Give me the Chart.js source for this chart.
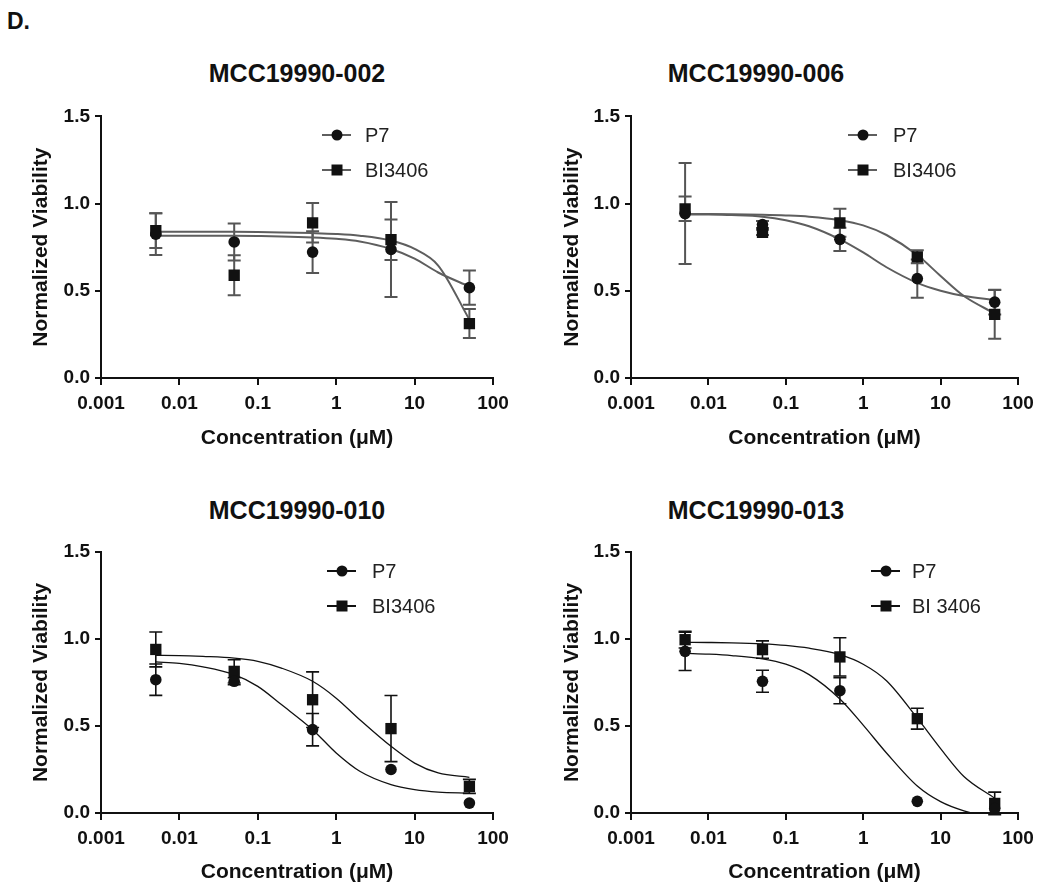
<!DOCTYPE html>
<html>
<head>
<meta charset="utf-8">
<script src="https://cdn.jsdelivr.net/npm/chart.js@4.4.0/dist/chart.umd.min.js"></script>
<style>
  body { margin: 0; background: #fff; width: 1050px; height: 896px; position: relative; overflow: hidden;
         font-family: 'Liberation Sans', Arial, sans-serif; color: #111; }
  canvas { position: absolute; }
  .title { position: absolute; width: 400px; text-align: center; font-weight: bold; font-size: 25px; line-height: 30px; }
  #panelLabel { position: absolute; left: 7px; top: 8px; font-weight: bold; font-size: 23px; line-height: 26px; }
</style>
</head>
<body>
<div id="panelLabel">D.</div>
<div class="title" style="left:97px;top:58px">MCC19990-002</div>
<div class="title" style="left:556px;top:58px">MCC19990-006</div>
<div class="title" style="left:97px;top:495px">MCC19990-010</div>
<div class="title" style="left:556px;top:495px">MCC19990-013</div>

<canvas id="c002" width="520" height="360" style="left:0;top:100px"></canvas>
<canvas id="c006" width="530" height="360" style="left:520px;top:100px"></canvas>
<canvas id="c010" width="520" height="366" style="left:0;top:530px"></canvas>
<canvas id="c013" width="530" height="366" style="left:520px;top:530px"></canvas>

<script>
// doses (µM) and tick labels
const doses = [0.005, 0.05, 0.5, 5, 50];
const fitDoses = [0.005, 0.01, 0.02, 0.05, 0.1, 0.2, 0.5, 1, 2, 5, 10, 20, 50];
const xTicks = [0.001, 0.01, 0.1, 1, 10, 100];
const xTickLabels = ['0.001', '0.01', '0.1', '1', '10', '100'];
const yTicks = [0, 0.5, 1, 1.5];
const yTickLabels = ['0.0', '0.5', '1.0', '1.5'];

// MCC19990-002
const p7_002 = [0.825, 0.78, 0.722, 0.737, 0.518];
const p7Sd_002 = [0.12, 0.106, 0.12, 0.272, 0.098];
const bi_002 = [0.845, 0.589, 0.89, 0.793, 0.312];
const biSd_002 = [0.10, 0.115, 0.113, 0.116, 0.083];
const p7Fit_002 = [0.815, 0.815, 0.815, 0.815, 0.814, 0.812, 0.806, 0.798, 0.783, 0.74, 0.685, 0.605, 0.525];
const biFit_002 = [0.838, 0.838, 0.838, 0.838, 0.837, 0.835, 0.831, 0.826, 0.816, 0.788, 0.74, 0.645, 0.335];

// MCC19990-006
const p7_006 = [0.943, 0.88, 0.795, 0.57, 0.435];
const p7Sd_006 = [0.29, 0.02, 0.067, 0.11, 0.071];
const bi_006 = [0.97, 0.835, 0.89, 0.695, 0.365];
const biSd_006 = [0.07, 0.015, 0.08, 0.037, 0.14];
const p7Fit_006 = [0.938, 0.937, 0.934, 0.925, 0.905, 0.87, 0.795, 0.72, 0.635, 0.545, 0.5, 0.47, 0.448];
const biFit_006 = [0.94, 0.94, 0.939, 0.936, 0.932, 0.925, 0.905, 0.875, 0.82, 0.705, 0.585, 0.47, 0.37];

// MCC19990-010
const p7_010 = [0.766, 0.757, 0.479, 0.25, 0.057];
const p7Sd_010 = [0.09, 0.02, 0.093, 0, 0];
const bi_010 = [0.94, 0.814, 0.651, 0.485, 0.153];
const biSd_010 = [0.10, 0.067, 0.16, 0.19, 0.04];
const p7Fit_010 = [0.868, 0.86, 0.84, 0.795, 0.728, 0.623, 0.479, 0.345, 0.24, 0.163, 0.134, 0.12, 0.114];
const biFit_010 = [0.906, 0.905, 0.9, 0.89, 0.872, 0.833, 0.757, 0.66, 0.536, 0.383, 0.287, 0.23, 0.205];

// MCC19990-013
const p7_013 = [0.929, 0.757, 0.703, 0.067, 0.025];
const p7Sd_013 = [0.11, 0.063, 0.075, 0, 0];
const bi_013 = [0.996, 0.939, 0.897, 0.542, 0.055];
const biSd_013 = [0.048, 0.05, 0.11, 0.06, 0.065];
const p7Fit_013 = [0.918, 0.913, 0.905, 0.886, 0.855, 0.795, 0.655, 0.505, 0.345, 0.155, 0.065, 0.012, -0.03];
const biFit_013 = [0.981, 0.98, 0.978, 0.972, 0.963, 0.947, 0.91, 0.855, 0.76, 0.545, 0.37, 0.21, 0.085];

const FONT = "'Liberation Sans', Arial, sans-serif";

const toPoints = (xs, ys) => xs.map((x, i) => ({ x: x, y: ys[i] }));

// vertical SD bars with caps, drawn under the markers
const errorBars = {
    id: 'errorBars',
    beforeDatasetsDraw(chart, args, opts) {
        const ctx = chart.ctx, xs = chart.scales.x, ys = chart.scales.y;
        ctx.save();
        ctx.strokeStyle = opts.color;
        ctx.lineWidth = opts.width;
        chart.data.datasets.forEach(ds => {
            if (!ds.errors) return;
            ds.data.forEach((p, i) => {
                const e = ds.errors[i];
                if (!e) return;
                const px = xs.getPixelForValue(p.x);
                const top = ys.getPixelForValue(p.y + e);
                const bot = ys.getPixelForValue(p.y - e);
                ctx.beginPath();
                ctx.moveTo(px, top); ctx.lineTo(px, bot);
                ctx.moveTo(px - 6.5, top); ctx.lineTo(px + 6.5, top);
                ctx.moveTo(px - 6.5, bot); ctx.lineTo(px + 6.5, bot);
                ctx.stroke();
            });
        });
        ctx.restore();
    }
};

// legend of the "-●-  P7" kind
const lineLegend = {
    id: 'lineLegend',
    afterDraw(chart, args, opts) {
        const ctx = chart.ctx;
        ctx.save();
        const items = chart.data.datasets.filter(ds => ds.legendText);
        items.forEach((ds, i) => {
            const y = opts.y + i * opts.gap;
            ctx.strokeStyle = opts.lineColor;
            ctx.lineWidth = 2;
            ctx.beginPath();
            ctx.moveTo(opts.x - 15, y); ctx.lineTo(opts.x + 14, y);
            ctx.stroke();
            ctx.fillStyle = '#111';
            ctx.beginPath();
            if (ds.pointStyle === 'rect') ctx.rect(opts.x - 5.5, y - 5.5, 11, 11);
            else ctx.arc(opts.x, y, 5.5, 0, Math.PI * 2);
            ctx.fill();
            ctx.fillStyle = '#222';
            ctx.font = '20px ' + FONT;
            ctx.textBaseline = 'middle';
            ctx.fillText(ds.legendText, opts.textX, y + 1);
        });
        ctx.restore();
    }
};

function makePanel(id, p) {
    const datasets = [
        { label: 'P7', legendText: 'P7', data: toPoints(doses, p.p7), errors: p.p7Sd,
          pointStyle: 'circle', pointRadius: 5.8, backgroundColor: '#111', borderWidth: 0, showLine: false },
        { label: p.biName, legendText: p.biName, data: toPoints(doses, p.bi), errors: p.biSd,
          pointStyle: 'rect', pointRadius: 8, backgroundColor: '#111', borderWidth: 0, showLine: false },
        { label: 'P7 fit', data: toPoints(fitDoses, p.p7Fit), showLine: true, pointRadius: 0,
          borderColor: p.curveColor, borderWidth: p.curveWidth, cubicInterpolationMode: 'monotone' },
        { label: 'BI fit', data: toPoints(fitDoses, p.biFit), showLine: true, pointRadius: 0,
          borderColor: p.curveColor, borderWidth: p.curveWidth, cubicInterpolationMode: 'monotone' }
    ];
    new Chart(document.getElementById(id), {
        type: 'scatter',
        data: { datasets: datasets },
        options: {
            responsive: false,
            animation: false,
            events: [],
            layout: { autoPadding: false, padding: { top: p.padTop, right: p.padRight, left: 0, bottom: 0 } },
            plugins: {
                legend: { display: false },
                tooltip: { enabled: false },
                errorBars: { color: p.barColor, width: p.barWidth },
                lineLegend: { x: p.legX, textX: p.legTextX, y: p.legY, gap: 35, lineColor: p.curveColor }
            },
            scales: {
                x: {
                    type: 'logarithmic',
                    min: 0.001,
                    max: 100,
                    afterBuildTicks: (scale) => { scale.ticks = xTicks.map(v => ({ value: v })); },
                    afterFit: (scale) => { scale.height = p.xHeight; },
                    ticks: {
                        autoSkip: false, maxRotation: 0, padding: 7, color: '#111',
                        font: { family: FONT, size: 19, weight: 'bold' },
                        callback: (v, i) => xTickLabels[i]
                    },
                    grid: { drawOnChartArea: false, drawTicks: true, tickLength: 7, color: '#111', lineWidth: 2 },
                    border: { display: true, color: '#111', width: 2 },
                    title: {
                        display: true, text: 'Concentration (μM)', color: '#111',
                        font: { family: FONT, size: 21, weight: 'bold' },
                        padding: { top: 0, bottom: p.xTitlePad }
                    }
                },
                y: {
                    min: 0,
                    max: 1.5,
                    afterBuildTicks: (scale) => { scale.ticks = yTicks.map(v => ({ value: v })); },
                    afterFit: (scale) => { scale.width = p.yWidth; },
                    ticks: {
                        padding: 5, color: '#111',
                        font: { family: FONT, size: 19, weight: 'bold' },
                        callback: (v, i) => yTickLabels[i]
                    },
                    grid: { drawOnChartArea: false, drawTicks: true, tickLength: 6, color: '#111', lineWidth: 2 },
                    border: { display: true, color: '#111', width: 2 },
                    title: {
                        display: true, text: 'Normalized Viability', color: '#111',
                        font: { family: FONT, size: 21, weight: 'bold' },
                        padding: { top: p.yTitlePad, bottom: 0 }
                    }
                }
            }
        },
        plugins: [errorBars, lineLegend]
    });
}

const topStyle = { curveColor: '#5e5e5e', curveWidth: 2, barColor: '#555', barWidth: 2 };
const bottomStyle = { curveColor: '#111', curveWidth: 1.3, barColor: '#111', barWidth: 1.6 };

makePanel('c002', Object.assign({
    p7: p7_002, p7Sd: p7Sd_002, bi: bi_002, biSd: biSd_002, p7Fit: p7Fit_002, biFit: biFit_002, biName: 'BI3406',
    padTop: 16, padRight: 27, yWidth: 101, xHeight: 82, xTitlePad: 9, yTitlePad: 29,
    legX: 337, legTextX: 365, legY: 35
}, topStyle));

makePanel('c006', Object.assign({
    p7: p7_006, p7Sd: p7Sd_006, bi: bi_006, biSd: biSd_006, p7Fit: p7Fit_006, biFit: biFit_006, biName: 'BI3406',
    padTop: 16, padRight: 32, yWidth: 111, xHeight: 82, xTitlePad: 9, yTitlePad: 40,
    legX: 343, legTextX: 373, legY: 35
}, topStyle));

makePanel('c010', Object.assign({
    p7: p7_010, p7Sd: p7Sd_010, bi: bi_010, biSd: biSd_010, p7Fit: p7Fit_010, biFit: biFit_010, biName: 'BI3406',
    padTop: 22, padRight: 27, yWidth: 101, xHeight: 83, xTitlePad: 11, yTitlePad: 29,
    legX: 342, legTextX: 372, legY: 41
}, bottomStyle));

makePanel('c013', Object.assign({
    p7: p7_013, p7Sd: p7Sd_013, bi: bi_013, biSd: biSd_013, p7Fit: p7Fit_013, biFit: biFit_013, biName: 'BI 3406',
    padTop: 22, padRight: 32, yWidth: 111, xHeight: 83, xTitlePad: 11, yTitlePad: 40,
    legX: 366, legTextX: 392, legY: 41
}, bottomStyle));
</script>
</body>
</html>
